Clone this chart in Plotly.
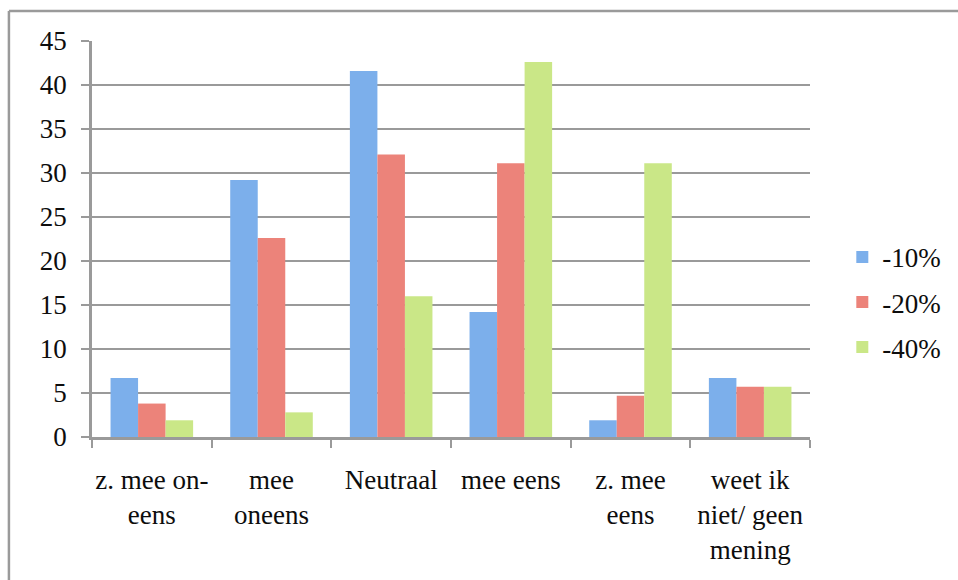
import plotly.graph_objects as go

# Survey answers (percent of respondents) per price-reduction scenario
categories = [
    "z. mee on-<br>eens",
    "mee<br>oneens",
    "Neutraal",
    "mee eens",
    "z. mee<br>eens",
    "weet ik<br>niet/ geen<br>mening",
]
series_names = ["-10%", "-20%", "-40%"]
values_10 = [6.7, 29.2, 41.6, 14.2, 1.9, 6.7]
values_20 = [3.8, 22.6, 32.1, 31.1, 4.7, 5.7]
values_40 = [1.9, 2.8, 16.0, 42.6, 31.1, 5.7]
y_ticks = [0, 5, 10, 15, 20, 25, 30, 35, 40, 45]

colors = ["#7cafeb", "#ec837a", "#cae787"]

FONT = "Liberation Serif"
GRID = "#9a9a9a"

fig = go.Figure()
for i, (name, vals) in enumerate(zip(series_names, [values_10, values_20, values_40])):
    fig.add_trace(go.Bar(
        x=categories,
        y=vals,
        name=name,
        legendgroup=name,
        marker=dict(color=colors[i], line=dict(width=0)),
    ))

W, H = 958, 580
ml, mr, mt, mb = 92, 140, 41, 143
pw, ph = W - ml - mr, H - mt - mb

fig.update_layout(
    width=W,
    height=H,
    margin=dict(l=ml, r=mr, t=mt, b=mb, pad=0),
    paper_bgcolor="white",
    plot_bgcolor="white",
    barmode="group",
    bargap=0.31,
    bargroupgap=0,
    font=dict(family=FONT, size=27, color="#0d0d0d"),
    legend=dict(
        x=1.045,
        y=0.34,
        xanchor="left",
        yanchor="middle",
        font=dict(family=FONT, size=27),
        tracegroupgap=7,
        itemwidth=30,
        bgcolor="rgba(0,0,0,0)",
    ),
    xaxis=dict(
        showgrid=False,
        showline=True,
        linecolor=GRID,
        linewidth=2.5,
        ticks="outside",
        tickson="boundaries",
        ticklen=8,
        tickwidth=2,
        tickcolor=GRID,
        tickangle=0,
        automargin=False,
        ticklabelstandoff=17,
        tickfont=dict(family=FONT, size=27),
        fixedrange=True,
    ),
    yaxis=dict(
        range=[0, 45],
        tickvals=y_ticks,
        showgrid=True,
        gridcolor=GRID,
        gridwidth=2.4,
        showline=True,
        linecolor=GRID,
        linewidth=2.5,
        ticks="outside",
        ticklen=8,
        tickwidth=2,
        tickcolor=GRID,
        automargin=False,
        ticklabelstandoff=9,
        zeroline=False,
        tickfont=dict(family=FONT, size=27),
        fixedrange=True,
    ),
    shapes=[
        # chart frame: top and left edges of the surrounding box
        dict(type="line", xref="paper", yref="paper",
             x0=(8 - ml) / pw, x1=(W + 10 - ml) / pw,
             y0=(H - mb - 11) / ph, y1=(H - mb - 11) / ph,
             line=dict(color=GRID, width=2.5)),
        dict(type="line", xref="paper", yref="paper",
             x0=(8 - ml) / pw, x1=(8 - ml) / pw,
             y0=(H - mb - 11) / ph, y1=-(mb + 10) / ph,
             line=dict(color=GRID, width=2.5)),
    ],
)

fig.write_html("out.html")
